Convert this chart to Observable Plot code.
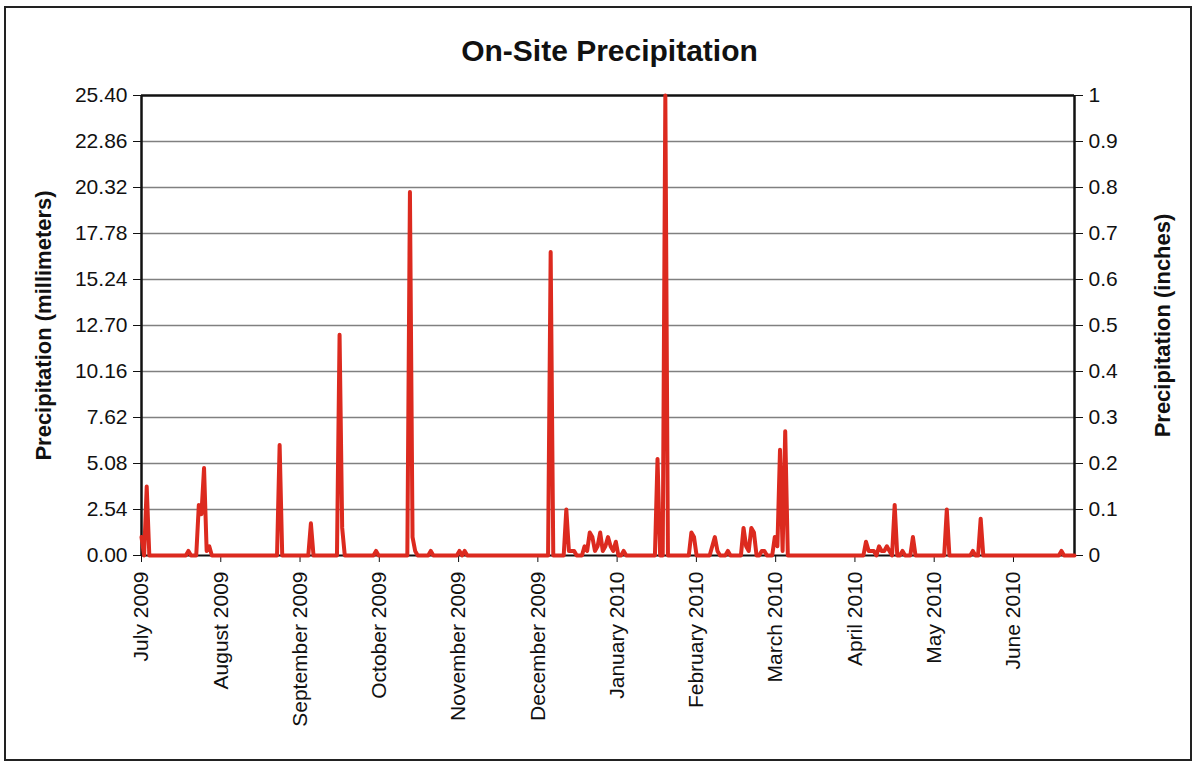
<!DOCTYPE html>
<html><head><meta charset="utf-8">
<script src="https://cdn.jsdelivr.net/npm/d3@7"></script>
<script src="https://cdn.jsdelivr.net/npm/@observablehq/plot@0.6"></script>
<style>
body{margin:0;background:#fff;font-family:"Liberation Sans",Arial,sans-serif;}
#frame{position:absolute;left:4px;top:6px;width:1188px;height:755px;border:2px solid #222;box-sizing:border-box;pointer-events:none;z-index:2}
#title{position:absolute;left:0;width:1219px;top:36px;text-align:center;font-size:30px;line-height:30px;font-weight:bold;color:#111;margin:0;font-family:"Liberation Sans",Arial,sans-serif}
#chart{position:absolute;left:8px;top:70px}
</style></head>
<body>
<div id="chart"></div>
<h1 id="title">On-Site Precipitation</h1>
<div id="frame"></div>
<script>
// Month tick labels (ticks spaced every 1/12 of a year from 1 July 2009)
const monthLabels = ["July 2009","August 2009","September 2009","October 2009","November 2009","December 2009",
  "January 2010","February 2010","March 2010","April 2010","May 2010","June 2010"];
// Days since 1 July 2009 with recorded rain, and amounts in inches (all other days are 0)
const eventDays = [0,2,18,22,23,24,25,26,53,65,76,77,90,103,104,105,111,122,124,
  157,163,164,165,166,170,171,172,173,174,175,176,177,178,179,180,181,182,185,
  198,201,211,212,219,220,221,225,231,232,233,234,235,238,239,243,244,245,246,247,
  278,279,280,281,283,284,285,286,287,289,292,296,309,319,322,353];
const eventInches = [0.04,0.15,0.01,0.11,0.09,0.19,0.01,0.02,0.24,0.07,0.48,0.06,0.01,0.79,0.04,0.01,0.01,0.01,0.01,
  0.66,0.10,0.01,0.01,0.01,0.02,0.01,0.05,0.04,0.01,0.02,0.05,0.01,0.02,0.04,0.02,0.01,0.03,0.01,
  0.21,1.00,0.05,0.04,0.02,0.04,0.01,0.01,0.06,0.02,0.01,0.06,0.05,0.01,0.01,0.04,0.02,0.23,0.01,0.27,
  0.03,0.01,0.01,0.01,0.02,0.01,0.01,0.02,0.01,0.11,0.01,0.04,0.10,0.01,0.08,0.01];
const lastDay = 358;
const mmTicks = [0,2.54,5.08,7.62,10.16,12.70,15.24,17.78,20.32,22.86,25.40];
const inchTicks = [0,0.1,0.2,0.3,0.4,0.5,0.6,0.7,0.8,0.9,1];

const series = d3.range(0, lastDay + 1).map(day => ({day, mm: 0}));
eventDays.forEach((d, i) => { series[d].mm = eventInches[i] * 25.4; });
const monthTickDays = monthLabels.map((_, i) => i * 365 / 12);

const W = 1180, H = 686;
const chart = Plot.plot({
  width: W, height: H,
  marginLeft: 133, marginRight: W - (1074 - 8),
  marginTop: 25, marginBottom: H - 25 - 460,
  style: {background: "transparent", fontFamily: "Liberation Sans, Arial, sans-serif", fontSize: "21px", color: "#111", overflow: "visible"},
  x: {type: "linear", domain: [0, lastDay]},
  y: {domain: [0, 25.4]},
  marks: [
    Plot.ruleY(mmTicks.slice(1, -1), {stroke: "#808080", strokeWidth: 1.5}),
    Plot.ruleY([0], {stroke: "#111", strokeWidth: 2}),
    Plot.ruleY([25.4], {stroke: "#111", strokeWidth: 2.5}),
    Plot.ruleX([0, lastDay], {stroke: "#111", strokeWidth: 2.5}),
    Plot.axisY({ticks: mmTicks, anchor: "left", tickSize: 8, tickPadding: 6, tickFormat: d => d.toFixed(2), fontSize: 21, label: null}),
    Plot.axisY({ticks: inchTicks.map(v => v * 25.4), anchor: "right", tickSize: 8, tickPadding: 6,
      tickFormat: d => String(+(d / 25.4).toFixed(1)), fontSize: 21, label: null}),
    Plot.axisX({ticks: monthTickDays, anchor: "bottom", tickSize: 7, tickPadding: 9, tickRotate: -90,
      tickFormat: d => monthLabels[Math.round(d * 12 / 365)], fontSize: 21, label: null}),
    Plot.line(series, {x: "day", y: "mm", stroke: "#dc2a1f", strokeWidth: 4}),
    Plot.text(["Precipitation (millimeters)"], {text: d => d, frameAnchor: "left", textAnchor: "middle", dx: -98, rotate: -90, fontWeight: "bold", fontSize: 22, fill: "#111"}),
    Plot.text(["Precipitation (inches)"], {text: d => d, frameAnchor: "right", textAnchor: "middle", dx: 88, rotate: -90, fontWeight: "bold", fontSize: 22, fill: "#111"})
  ]
});
document.getElementById("chart").appendChild(chart);
</script>
</body></html>
